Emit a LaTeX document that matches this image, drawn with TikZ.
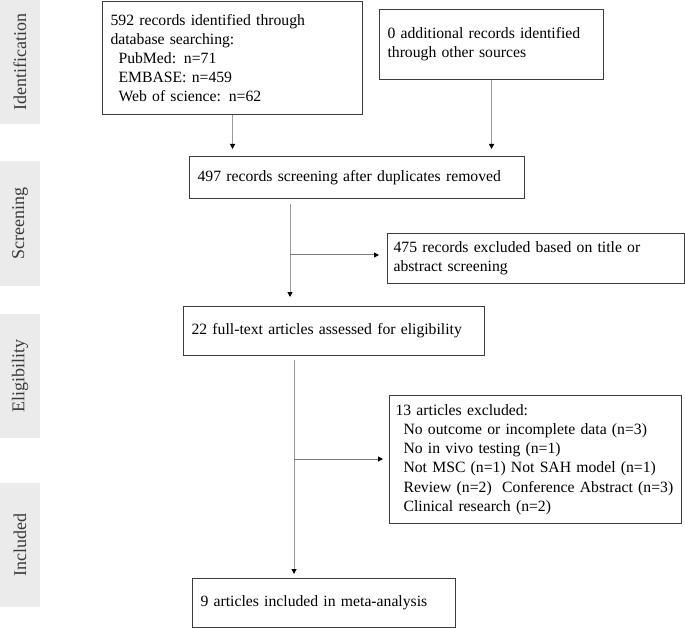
\documentclass[tikz,border=0pt]{standalone}
\usepackage{fontspec}
\setmainfont{Liberation Serif}
\usepackage{tikz}
\usetikzlibrary{arrows.meta}
\definecolor{barfill}{HTML}{EBEBEB}
\definecolor{bartext}{HTML}{3A3A3A}
\definecolor{boxline}{HTML}{3C3C3C}
\definecolor{linkline}{HTML}{9A9A9A}
\newcommand{\ind}{\hspace*{8pt}}
\tikzset{
  box/.style={draw=boxline, line width=1.1pt, anchor=north west, align=left,
    inner xsep=8pt, inner ysep=0pt, font=\fontsize{15.7}{19.2}\selectfont},
  stage/.style={fill=barfill, rotate=90, minimum height=40pt, inner sep=0pt,
    text=bartext, font=\fontsize{18}{20}\selectfont},
  link/.style={draw=linkline, line width=1pt, -{Triangle[length=5pt,width=5pt,color=black]}},
  branch/.style={draw=linkline!80!black, line width=1pt}
}

\begin{document}
\begin{tikzpicture}[x=1pt,y=-1pt]
        \useasboundingbox (0,0) rectangle (685,628);
        %stages
        \node[stage, minimum width=124] (ident) at (20,62) {Identification};
        \node[stage, minimum width=125] (screen) at (20,223.5) {Screening};
        \node[stage, minimum width=124] (elig) at (20,376) {Eligibility};
        \node[stage, minimum width=124] (inc) at (20,545) {Included};

        %boxes
        \node[box, text width=244pt, minimum height=113] (db) at (102,1)
            {592 records identified through\\ database searching:\\
             \ind PubMed: n=71\\ \ind EMBASE: n=459\\ \ind Web of science: n=62};
        \node[box, text width=208pt, minimum height=70] (other) at (379,9)
            {0 additional records identified\\ through other sources};
        \node[box, text width=319pt, minimum height=42] (dedup) at (189,156)
            {497 records screening after duplicates removed};
        \node[box, inner xsep=6pt, text width=285pt, minimum height=50] (excl1) at (387,233)
            {475 records excluded based on title or\\ abstract screening};
        \node[box, text width=285pt, minimum height=49] (full) at (183,306)
            {22 full-text articles assessed for eligibility};
        \node[box, inner xsep=6pt, text width=280pt, minimum height=128] (excl2) at (389,395)
            {13 articles excluded:\\
             \ind No outcome or incomplete data (n=3)\\
             \ind No in vivo testing (n=1)\\
             \ind Not MSC (n=1) Not SAH model (n=1)\\
             \ind\mbox{Review (n=2)\ \ Conference Abstract (n=3)}\\
             \ind Clinical research (n=2)};
        \node[box, text width=247pt, minimum height=49] (incl) at (192,578)
            {9 articles included in meta-analysis};

        %links
        \coordinate (split1) at (290,255);
        \coordinate (split2) at (294,459);
        \draw[link, shorten >=7pt] (db.south) -- (db.south |- dedup.north);
        \draw[link, shorten >=7pt] (other.south) -- (other.south |- dedup.north);
        \draw[link, shorten <=5pt, shorten >=9pt] (dedup.south -| split1) -- (split1 |- full.north);
        \draw[branch, -{Triangle[length=5pt,width=5pt,color=black]}, shorten >=8pt] (split1) -- (split1 -| excl1.west);
        \draw[link, shorten <=4pt, shorten >=4pt] (full.south -| split2) -- (split2 |- incl.north);
        \draw[branch, -{Triangle[length=5pt,width=5pt,color=black]}, shorten >=6pt] (split2) -- (split2 -| excl2.west);
    \end{tikzpicture}
\end{document}
